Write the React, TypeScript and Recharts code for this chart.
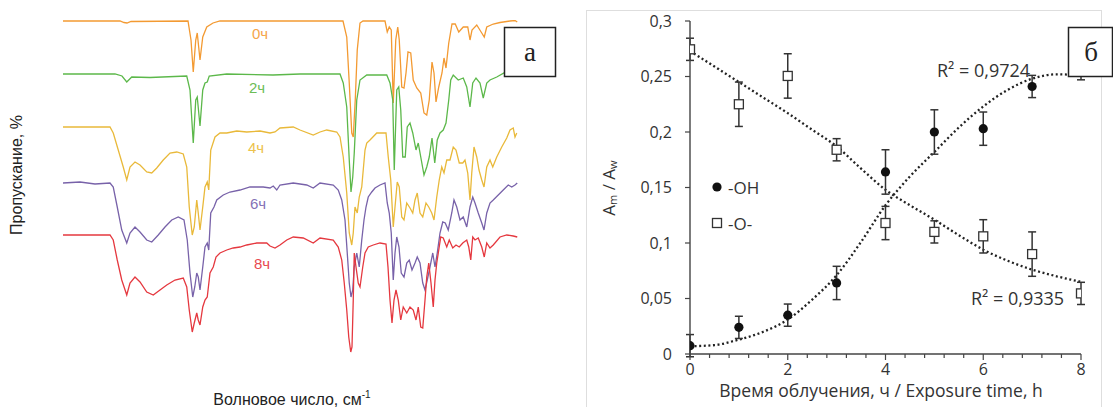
import React from "react";
import { LineChart, Line, XAxis, YAxis, ComposedChart, Scatter, ErrorBar } from "recharts";

// ---- panel a: IR spectra, [wavenumber cm-1, transmittance (stacked, arb. units)]
const spec0h: [number, number][] = [
  [4000, 66.8], [3544, 66.8], [3512, 66.5], [3488, 66.4], [3456, 66.7], [3000, 66.8], [2976, 63], [2958, 56.6],
  [2938, 63], [2926, 64.4], [2904, 59], [2882, 63.6], [2850, 65.6], [2800, 66.4], [2744, 66.8], [2424, 66.8],
  [2104, 66.8], [1760, 66.8], [1730, 63.6], [1710, 54.4], [1690, 44.4], [1678, 43.6], [1662, 51], [1646, 61],
  [1624, 66.4], [1600, 66.8], [1424, 66.8], [1406, 64.6], [1390, 65.6], [1374, 65], [1358, 50.4], [1338, 63],
  [1322, 65.6], [1310, 63], [1290, 53.6], [1272, 53.4], [1256, 56.4], [1240, 60.6], [1218, 60.4], [1198, 55],
  [1170, 53.4], [1138, 52.4], [1112, 48.4], [1090, 48], [1070, 51], [1048, 58.6], [1032, 56.4], [1016, 50.6],
  [994, 53.6], [968, 56.4], [952, 59.4], [936, 57.4], [914, 62.4], [888, 66.2], [862, 66.2], [834, 64.6],
  [798, 65.6], [762, 65.6], [744, 63], [728, 65], [690, 66], [650, 64.4], [630, 63.6], [610, 65.6], [558, 66.2],
  [504, 66.5], [424, 66.8], [384, 66.9], [366, 66.6],
];

const spec2h: [number, number][] = [
  [4000, 56.2], [3584, 56.2], [3528, 55.8], [3490, 54.6], [3450, 55.6], [3304, 55.5], [3010, 55.8], [2984, 53],
  [2958, 42.4], [2938, 51], [2926, 51.6], [2904, 45.8], [2882, 53], [2864, 54.4], [2846, 54.6], [2830, 55.8],
  [2690, 56.2], [2320, 56], [2104, 56.2], [1784, 56.2], [1758, 54.4], [1730, 49.6], [1710, 39], [1696, 32.6],
  [1682, 35.6], [1670, 40.4], [1650, 51], [1624, 55], [1570, 56], [1410, 56], [1384, 54.4], [1362, 51], [1350, 37],
  [1330, 53], [1314, 53.6], [1298, 49], [1282, 39.6], [1262, 39.6], [1246, 45.6], [1224, 46.4], [1202, 44.4],
  [1176, 41], [1158, 42.4], [1138, 39.6], [1112, 36], [1090, 37.6], [1070, 39.6], [1048, 43.4], [1026, 38.4],
  [1006, 43], [984, 44.4], [958, 45], [936, 46.4], [914, 51], [898, 55], [878, 56], [838, 55], [798, 55.4],
  [770, 53.6], [744, 49.6], [722, 54.4], [696, 55.4], [664, 54.4], [638, 51.4], [610, 54.4], [584, 55],
  [530, 55.6], [472, 56.4], [368, 56.6],
];

const spec4h: [number, number][] = [
  [4000, 45.6], [3624, 45.6], [3598, 44.4], [3558, 41], [3518, 37.6], [3490, 35], [3464, 37.6], [3424, 38.6],
  [3384, 38], [3330, 36.6], [3290, 36.4], [3250, 37.4], [3198, 39], [3144, 40.4], [3090, 40.6], [3038, 40.2],
  [3010, 37.6], [2990, 29.6], [2966, 24], [2950, 25.6], [2930, 31], [2918, 28.4], [2904, 25], [2882, 29.6],
  [2864, 33.6], [2846, 34.6], [2834, 33], [2818, 41], [2784, 43.6], [2744, 44.4], [2690, 44.4], [2610, 44.8],
  [2530, 44.6], [2424, 44.8], [2344, 44.4], [2304, 44.6], [2264, 45.4], [2158, 45.6], [2104, 45], [1998, 44],
  [1944, 44.6], [1890, 45], [1810, 44.6], [1784, 43.6], [1758, 39.6], [1730, 32.4], [1710, 24.4], [1690, 22],
  [1678, 24.4], [1664, 29.6], [1646, 28.4], [1630, 31.6], [1610, 33.6], [1584, 41], [1570, 42.4], [1544, 43],
  [1490, 44.4], [1416, 44.4], [1398, 39.6], [1378, 35], [1358, 25.6], [1344, 29.6], [1326, 34.6], [1310, 33.6],
  [1290, 27.6], [1272, 27], [1250, 30.4], [1224, 29.4], [1202, 28.4], [1184, 31], [1166, 32.4], [1144, 28.4],
  [1122, 27.6], [1096, 30.4], [1074, 29.6], [1050, 28.4], [1032, 27], [1010, 31.6], [990, 35], [970, 37.6],
  [952, 36.4], [930, 39], [904, 39], [878, 41.6], [856, 41], [830, 38.4], [802, 38.4], [784, 39], [762, 36.4],
  [744, 31], [730, 36.4], [712, 41.6], [690, 39.6], [672, 37], [650, 35], [632, 33.6], [610, 37.6], [584, 39],
  [562, 37.6], [530, 39.6], [490, 41.6], [450, 43.4], [424, 45], [398, 45.4], [384, 43.6], [370, 44.4],
];

const spec6h: [number, number][] = [
  [4000, 34.4], [3864, 34.6], [3744, 34.2], [3624, 34.4], [3598, 33.6], [3566, 29.6], [3530, 25], [3490, 22.4],
  [3464, 24.4], [3424, 25.6], [3384, 24.6], [3330, 23], [3290, 22.6], [3238, 24], [3184, 25.6], [3130, 27],
  [3078, 27.6], [3032, 27], [3006, 23], [2984, 16.4], [2962, 11.6], [2946, 13.6], [2930, 16.4], [2918, 15.6],
  [2904, 13], [2882, 17.6], [2864, 21.6], [2846, 22.4], [2834, 21], [2818, 28.4], [2792, 29.6], [2770, 31],
  [2718, 32], [2664, 32.6], [2584, 33], [2504, 33.6], [2398, 33.6], [2344, 33.4], [2318, 33.8], [2290, 33],
  [2264, 34], [2158, 34.4], [2050, 34], [1998, 33.4], [1944, 34.4], [1838, 34], [1798, 33], [1770, 31],
  [1744, 27], [1726, 20.4], [1710, 14.4], [1696, 11.6], [1682, 13], [1670, 17.6], [1650, 20.4], [1630, 17.6],
  [1610, 23], [1592, 27], [1576, 29.6], [1558, 31.6], [1530, 32.6], [1504, 33.4], [1464, 34], [1424, 34.4],
  [1406, 30.4], [1390, 28.4], [1374, 24.4], [1358, 15], [1344, 20.4], [1330, 23.6], [1312, 21.6], [1294, 16.4],
  [1272, 15.6], [1250, 18.4], [1230, 19], [1208, 17], [1184, 18.4], [1166, 19.6], [1144, 18.4], [1122, 14.4],
  [1104, 13], [1086, 15], [1064, 17.6], [1042, 20.4], [1024, 17.6], [1006, 20.4], [984, 24.4], [962, 26.6],
  [942, 26.4], [918, 25], [890, 28.4], [872, 31], [850, 29.6], [824, 27], [798, 27.6], [770, 25.6], [744, 29.6],
  [722, 31.6], [704, 30.4], [678, 28.4], [650, 26.4], [632, 25], [610, 28.4], [584, 30.4], [558, 31], [518, 32],
  [478, 33], [438, 34], [410, 33.6], [384, 34], [366, 34.4],
];

const spec8h: [number, number][] = [
  [4000, 24], [3624, 24], [3598, 23], [3566, 19], [3530, 15], [3490, 12], [3464, 14.4], [3424, 15.6], [3384, 14.6],
  [3330, 12.6], [3278, 12], [3224, 13], [3170, 14], [3104, 15], [3038, 15.4], [3010, 13.6], [2990, 9], [2966, 4.6],
  [2950, 6.4], [2930, 8.4], [2918, 7], [2904, 6], [2882, 9.6], [2864, 11], [2846, 11.6], [2824, 16.4], [2798, 17.6],
  [2776, 19.6], [2744, 20.4], [2690, 21], [2638, 21.4], [2584, 21.6], [2530, 22], [2450, 22.4], [2370, 22.4],
  [2344, 21.8], [2304, 21.4], [2264, 22], [2210, 23], [2158, 23.6], [2078, 23.4], [1998, 22.4], [1944, 23.4],
  [1838, 23], [1798, 21.6], [1770, 19], [1750, 14.4], [1730, 9], [1714, 3.6], [1698, 0.6], [1688, 1.6], [1678, 11],
  [1670, 20.4], [1656, 17.6], [1638, 14.4], [1624, 13.6], [1602, 17.6], [1584, 20.4], [1558, 21.6], [1518, 22],
  [1464, 22.4], [1416, 22.2], [1400, 17.6], [1384, 11], [1368, 6.4], [1352, 11], [1336, 13], [1318, 11], [1298, 7],
  [1278, 9.6], [1250, 8.4], [1224, 9.6], [1198, 9], [1176, 7], [1158, 9.6], [1138, 5.6], [1122, 5.4], [1104, 11],
  [1090, 15.6], [1074, 18.4], [1056, 14.4], [1038, 9.6], [1024, 15], [1010, 18.4], [994, 21], [978, 23.6],
  [958, 23.4], [930, 21.6], [910, 23], [882, 21.4], [856, 22], [830, 21.6], [802, 22.4], [770, 23], [754, 21.6],
  [738, 19], [722, 23.6], [704, 23], [678, 23.4], [650, 21.6], [630, 19.6], [610, 22.4], [584, 21.4], [558, 22],
  [504, 23.6], [450, 24], [398, 23.8], [366, 23.6],
];

const spectra = [
  { name: "0ч", color: "#f39a32", label: "#f5a54a", pts: spec0h },
  { name: "2ч", color: "#5cb84a", label: "#6cbd57", pts: spec2h },
  { name: "4ч", color: "#e9b93a", label: "#ecc24c", pts: spec4h },
  { name: "6ч", color: "#7862a9", label: "#8472b6", pts: spec6h },
  { name: "8ч", color: "#e5383f", label: "#e84a50", pts: spec8h },
];

// ---- panel b: A_m / A_w vs exposure time
const hours = [0, 1, 2, 3, 4, 5, 6, 7, 8];
const ohValues = [0.0075, 0.024, 0.035, 0.064, 0.164, 0.2, 0.203, 0.241, 0.257];
const ohErrors = [0.01, 0.01, 0.01, 0.015, 0.02, 0.02, 0.015, 0.01, 0.01];
const oValues = [0.2745, 0.225, 0.2505, 0.184, 0.118, 0.11, 0.106, 0.09, 0.0546];
const oErrors = [0.01, 0.02, 0.02, 0.01, 0.015, 0.01, 0.015, 0.02, 0.01];

const trendX = [0, 0.5, 1, 1.5, 2, 2.5, 3, 3.5, 4, 4.5, 5, 5.5, 6, 6.5, 7, 7.5, 8];
const ohTrend = [0.007, 0.008, 0.013, 0.02, 0.031, 0.049, 0.071, 0.101, 0.134, 0.16, 0.182, 0.204, 0.223, 0.238, 0.248, 0.252, 0.251];
const oTrend = [0.273, 0.259, 0.245, 0.231, 0.217, 0.202, 0.187, 0.167, 0.148, 0.134, 0.121, 0.107, 0.094, 0.084, 0.076, 0.07, 0.065];

const xTicks = [0, 0.4, 0.8, 1.2, 1.6, 2, 2.4, 2.8, 3.2, 3.6, 4, 4.4, 4.8, 5.2, 5.6, 6, 6.4, 6.8, 7.2, 7.6, 8];
const yTicks = [0, 0.05, 0.1, 0.15, 0.2, 0.25, 0.3];

const ohData = hours.map((x, i) => ({ x, y: ohValues[i], err: ohErrors[i] }));
const oData = hours.map((x, i) => ({ x, y: oValues[i], err: oErrors[i] }));
const ohTrendData = trendX.map((x, i) => ({ x, y: ohTrend[i] }));
const oTrendData = trendX.map((x, i) => ({ x, y: oTrend[i] }));

const FONT_B = "'Open Sans', sans-serif";
const FONT_A = "'Liberation Sans', Arial, sans-serif";
const AXIS = "#444";

const XTick = (props: any) => {
  const { x, y, payload } = props;
  const v = payload.value;
  const major = Math.abs(v / 2 - Math.round(v / 2)) < 1e-6;
  return (
    <g>
      <line x1={x} x2={x} y1={y} y2={y + (major ? 6 : 4)} stroke={AXIS} strokeWidth={1.2} />
      {major && (
        <text x={x} y={y + 21} textAnchor="middle" fontSize={16} fontFamily={FONT_B} fill="#333">
          {v}
        </text>
      )}
    </g>
  );
};

const Dot = (props: any) => <circle cx={props.cx} cy={props.cy} r={4.6} fill="#111" />;
const Square = (props: any) => (
  <rect x={props.cx - 4.5} y={props.cy - 4.5} width={9} height={9} fill="#fff" stroke="#333" strokeWidth={1.3} />
);

export default function App() {
  return (
    <div style={{ position: "absolute", left: 0, top: 0, width: 1113, height: 407, background: "#fff", overflow: "hidden" }}>
      {/* panel a */}
      <div style={{ position: "absolute", left: 0, top: 0 }}>
        <LineChart width={560} height={407} margin={{ top: 20, right: 42, bottom: 52, left: 63 }}>
          <XAxis
            type="number"
            dataKey="wn"
            domain={[360, 4000]}
            reversed
            allowDataOverflow
            height={0}
            tick={false}
            tickLine={false}
            axisLine={{ stroke: "#333", strokeWidth: 1.5 }}
          />
          <YAxis
            type="number"
            domain={[0, 67]}
            allowDataOverflow
            width={0}
            tick={false}
            tickLine={false}
            axisLine={{ stroke: "#333", strokeWidth: 1.5 }}
          />
          {spectra.map((s) => (
            <Line
              key={s.name}
              data={s.pts.map(([wn, t]) => ({ wn, t }))}
              dataKey="t"
              type="linear"
              stroke={s.color}
              strokeWidth={1.3}
              dot={false}
              isAnimationActive={false}
            />
          ))}
        </LineChart>
      </div>

      {/* panel b */}
      <div style={{ position: "absolute", left: 560, top: 0 }}>
        <ComposedChart width={553} height={407} margin={{ top: 21, right: 32, bottom: 23, left: 90 }}>
          <XAxis
            type="number"
            dataKey="x"
            domain={[0, 8]}
            ticks={xTicks}
            interval={0}
            allowDataOverflow
            height={30}
            tickSize={0}
            tickMargin={0}
            tickLine={false}
            tick={(p: any) => <XTick {...p} />}
            axisLine={{ stroke: AXIS, strokeWidth: 1.4 }}
          />
          <YAxis
            type="number"
            dataKey="y"
            domain={[0, 0.3]}
            ticks={yTicks}
            interval={0}
            allowDataOverflow
            width={40}
            tickSize={5}
            tickMargin={13}
            tickFormatter={(v: number) => String(v).replace(".", ",")}
            tick={{ fontSize: 16, fontFamily: FONT_B, fill: "#333" }}
            tickLine={{ stroke: AXIS, strokeWidth: 1.2 }}
            axisLine={{ stroke: AXIS, strokeWidth: 1.4 }}
          />
          <Line data={ohTrendData} dataKey="y" type="monotone" stroke="#222" strokeWidth={2.3} strokeDasharray="2 2.6" dot={false} isAnimationActive={false} />
          <Line data={oTrendData} dataKey="y" type="monotone" stroke="#222" strokeWidth={2.3} strokeDasharray="2 2.6" dot={false} isAnimationActive={false} />
          <Scatter data={ohData} dataKey="y" shape={<Dot />} isAnimationActive={false}>
            <ErrorBar dataKey="err" direction="y" width={4} stroke="#333" strokeWidth={1.5} />
          </Scatter>
          <Scatter data={oData} dataKey="y" shape={<Square />} isAnimationActive={false}>
            <ErrorBar dataKey="err" direction="y" width={4} stroke="#333" strokeWidth={1.5} />
          </Scatter>
        </ComposedChart>
      </div>

      {/* annotations */}
      <svg width={1113} height={407} style={{ position: "absolute", left: 0, top: 0, pointerEvents: "none" }}>
        <rect x={586.5} y={10.5} width={515} height={400} fill="none" stroke="#dedede" strokeWidth={1} />

        <text x={16} y={175} transform="rotate(-90 16 175)" textAnchor="middle" dominantBaseline="central" fontSize={16} fontFamily={FONT_A} fill="#222">
          Пропускание, %
        </text>
        <text x={292} y={405} textAnchor="middle" fontSize={16} fontFamily={FONT_A} fill="#222">
          Волновое число, см<tspan dy={-7} fontSize={10}>-1</tspan>
        </text>

        {[
          [260, 33],
          [257, 87],
          [256, 147],
          [258, 203],
          [262, 263],
        ].map(([x, y], i) => (
          <text key={i} x={x} y={y} textAnchor="middle" dominantBaseline="central" fontSize={15} fontFamily={FONT_A} fill={spectra[i].label}>
            {spectra[i].name}
          </text>
        ))}

        <rect x={504.5} y={27.5} width={51} height={49} fill="#fff" stroke="#222" strokeWidth={1.5} />
        <text x={530} y={52} textAnchor="middle" dominantBaseline="central" fontSize={27} fontFamily="'Liberation Serif', serif" fill="#222">
          a
        </text>

        <text x={608} y={188} transform="rotate(-90 608 188)" textAnchor="middle" dominantBaseline="central" fontSize={17} fontFamily={FONT_B} fill="#333">
          A<tspan fontSize={11} dy={4}>m</tspan>
          <tspan dy={-4}> / A</tspan>
          <tspan fontSize={11} dy={4}>w</tspan>
        </text>
        <text x={881} y={397} textAnchor="middle" fontSize={17.5} fontFamily={FONT_B} fill="#333">
          Время облучения, ч / Exposure time, h
        </text>

        <circle cx={717} cy={187} r={4.6} fill="#111" />
        <text x={728} y={187} dominantBaseline="central" fontSize={17} fontFamily={FONT_B} fill="#333">-OH</text>
        <rect x={712.5} y={218.5} width={9} height={9} fill="#fff" stroke="#333" strokeWidth={1.3} />
        <text x={728} y={223} dominantBaseline="central" fontSize={17} fontFamily={FONT_B} fill="#333">-O-</text>

        <text x={937} y={70} dominantBaseline="central" fontSize={18} fontFamily={FONT_B} fill="#333">R² = 0,9724</text>
        <text x={971} y={298} dominantBaseline="central" fontSize={18} fontFamily={FONT_B} fill="#333">R² = 0,9335</text>

        <rect x={1068.5} y={27.5} width={44} height={49} fill="#fff" stroke="#222" strokeWidth={1.5} />
        <text x={1091} y={52} textAnchor="middle" dominantBaseline="central" fontSize={27} fontFamily="'Liberation Serif', serif" fill="#222">
          б
        </text>
      </svg>
    </div>
  );
}
